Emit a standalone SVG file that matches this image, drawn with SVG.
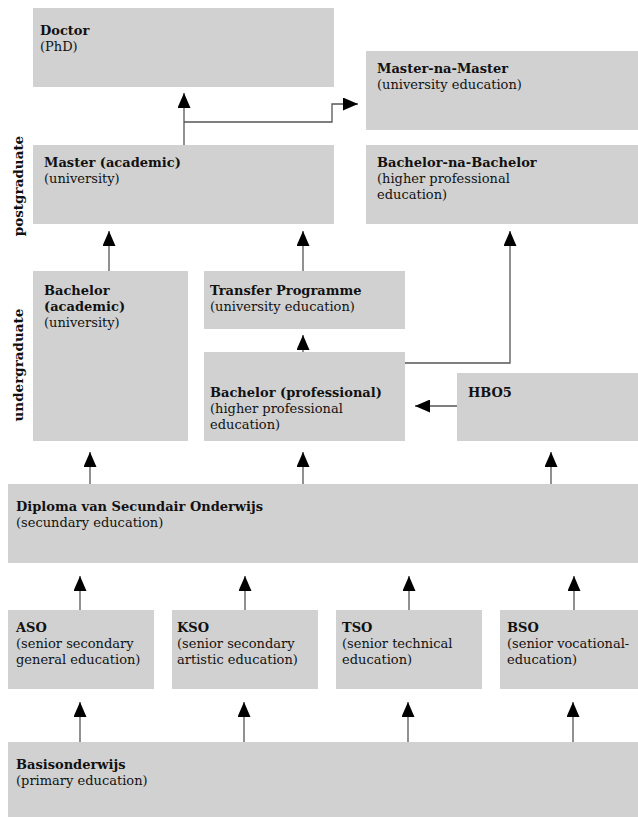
<svg xmlns="http://www.w3.org/2000/svg" width="638" height="817" viewBox="0 0 638 817">
<defs>
<marker id="ah" markerUnits="userSpaceOnUse" markerWidth="16" markerHeight="13" viewBox="0 0 16 13" refX="15" refY="6.5" orient="auto">
<path d="M0,0 L15,6.5 L0,13 Z" fill="#000"/>
</marker>
<style>
.box{fill:#d1d1d1}
text{font-family:"DejaVu Serif","Liberation Serif",serif;font-size:13px;fill:#111}
.b{font-weight:bold}
.lbl{font-weight:bold;font-size:13.5px}
.c{fill:none;stroke:#555;stroke-width:1.3;marker-end:url(#ah)}
</style>
</defs>
<rect width="638" height="817" fill="#fff"/>
<text class="lbl" transform="translate(23,186) rotate(-90)" text-anchor="middle">postgraduate</text>
<text class="lbl" transform="translate(23,365) rotate(-90)" text-anchor="middle">undergraduate</text>
<g id="doctor"><rect class="box" x="33" y="8" width="301" height="79"/><text x="40" y="35" class="b">Doctor</text><text x="40" y="51">(PhD)</text></g>
<g id="mnm"><rect class="box" x="366" y="51" width="272" height="79"/><text x="377" y="73" class="b">Master-na-Master</text><text x="377" y="89">(university education)</text></g>
<g id="master"><rect class="box" x="33" y="145" width="301" height="79"/><text x="44" y="167" class="b">Master (academic)</text><text x="44" y="183">(university)</text></g>
<g id="bnb"><rect class="box" x="366" y="145" width="272" height="79"/><text x="377" y="167" class="b">Bachelor-na-Bachelor</text><text x="377" y="183">(higher professional</text><text x="377" y="199">education)</text></g>
<g id="bacha"><rect class="box" x="33" y="271" width="155" height="170"/><text x="44" y="295" class="b">Bachelor</text><text x="44" y="311" class="b">(academic)</text><text x="44" y="327">(university)</text></g>
<g id="transfer"><rect class="box" x="204" y="271" width="201" height="58"/><text x="210" y="295" class="b">Transfer Programme</text><text x="210" y="311">(university education)</text></g>
<g id="bachp"><rect class="box" x="204" y="352" width="201" height="89"/><text x="210" y="397" class="b">Bachelor (professional)</text><text x="210" y="413">(higher professional</text><text x="210" y="429">education)</text></g>
<g id="hbo5"><rect class="box" x="457" y="373" width="181" height="68"/><text x="468" y="397" class="b">HBO5</text></g>
<g id="diploma"><rect class="box" x="8" y="484" width="630" height="79"/><text x="16" y="511" class="b">Diploma van Secundair Onderwijs</text><text x="16" y="527">(secundary education)</text></g>
<g id="aso"><rect class="box" x="8" y="610" width="146" height="79"/><text x="16" y="632" class="b">ASO</text><text x="16" y="648">(senior secondary</text><text x="16" y="664">general education)</text></g>
<g id="kso"><rect class="box" x="172" y="610" width="146" height="79"/><text x="177" y="632" class="b">KSO</text><text x="177" y="648">(senior secondary</text><text x="177" y="664">artistic education)</text></g>
<g id="tso"><rect class="box" x="336" y="610" width="146" height="79"/><text x="342" y="632" class="b">TSO</text><text x="342" y="648">(senior technical</text><text x="342" y="664">education)</text></g>
<g id="bso"><rect class="box" x="500" y="610" width="138" height="79"/><text x="507" y="632" class="b">BSO</text><text x="507" y="648">(senior vocational-</text><text x="507" y="664">education)</text></g>
<g id="basis"><rect class="box" x="8" y="742" width="630" height="75"/><text x="16" y="769" class="b">Basisonderwijs</text><text x="16" y="785">(primary education)</text></g>
<g id="connectors">
<path class="c" d="M184,145 V93"/>
<path class="c" d="M184,122 H332 V104 H358"/>
<path class="c" d="M109,271 V231"/>
<path class="c" d="M303,271 V231"/>
<path class="c" d="M303,352 V335"/>
<path class="c" d="M405,363 H510 V231"/>
<path class="c" d="M457,406 H415"/>
<path class="c" d="M90,484 V452"/>
<path class="c" d="M303,484 V452"/>
<path class="c" d="M551,484 V452"/>
<path class="c" d="M80,610 V576"/>
<path class="c" d="M245,610 V576"/>
<path class="c" d="M409,610 V576"/>
<path class="c" d="M574,610 V576"/>
<path class="c" d="M80,742 V702"/>
<path class="c" d="M244,742 V702"/>
<path class="c" d="M408,742 V702"/>
<path class="c" d="M573,742 V702"/>
</g>
</svg>
